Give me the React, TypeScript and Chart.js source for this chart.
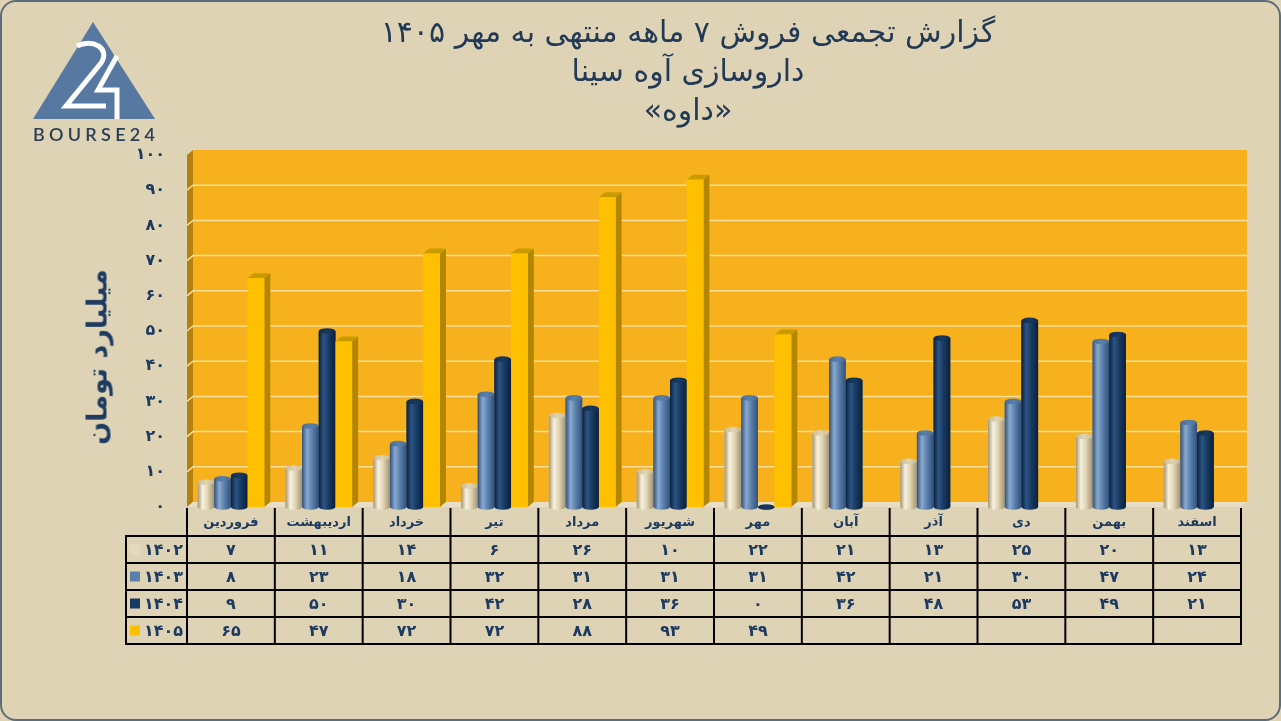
import React, { useEffect, useRef } from "react";
import { Chart, registerables } from "chart.js";

Chart.register(...registerables);

// ---------- data ----------
const months = [
  "فروردین", "اردیبهشت", "خرداد", "تیر", "مرداد", "شهریور",
  "مهر", "آبان", "آذر", "دی", "بهمن", "اسفند",
];
const years = ["1402", "1403", "1404", "1405"];
const sales1402 = [7, 11, 14, 6, 26, 10, 22, 21, 13, 25, 20, 13];
const sales1403 = [8, 23, 18, 32, 31, 31, 31, 42, 21, 30, 47, 24];
const sales1404 = [9, 50, 30, 42, 28, 36, 0, 36, 48, 53, 49, 21];
const sales1405 = [65, 47, 72, 72, 88, 93, 49, null, null, null, null, null];
const yMin = 0;
const yMax = 100;
const yStep = 10;
const titleLines = [
  "گزارش تجمعی فروش ۷ ماهه منتهی به مهر ۱۴۰۵",
  "داروسازی آوه سینا",
  "«داوه»",
];
const yTitle = "میلیارد تومان";

// ---------- styling ----------
const NAVY = "#1d3b61";
const FA_FONT = '"DejaVu Sans", sans-serif';
const DX = 6;
const DY = 5;
const seriesStyles: any[] = [
  { kind: "cyl", flat: "#e2d6b6", dark: "#a39371", light: "#f7f1df", mid: "#e0d4b3", cap: "#c9bb96" },
  { kind: "cyl", flat: "#5a7fab", dark: "#31507a", light: "#8aa9ce", mid: "#5b80ac", cap: "#496c96" },
  { kind: "cyl", flat: "#183a62", dark: "#0a203b", light: "#2c5484", mid: "#183a62", cap: "#102b4b" },
  { kind: "box", flat: "#ffc000", front: "#ffc000", side: "#b38600", top: "#c99b00" },
];
const legendSquare = ["#e4d9bd", "#5a7fab", "#183a62", "#ffc000"];

const faDigits = "۰۱۲۳۴۵۶۷۸۹";
const toFa = (v: any) => String(v).replace(/\d/g, (d) => faDigits[Number(d)]);

function drawCylinder(ctx: CanvasRenderingContext2D, x: number, top: number, base: number, w: number, s: any) {
  const rx = w / 2;
  const ry = Math.max(2.2, w * 0.17);
  const l = x - rx;
  const r = x + rx;
  const g = ctx.createLinearGradient(l, 0, r, 0);
  g.addColorStop(0, s.dark);
  g.addColorStop(0.3, s.light);
  g.addColorStop(0.6, s.mid);
  g.addColorStop(1, s.dark);
  ctx.fillStyle = g;
  ctx.beginPath();
  ctx.moveTo(l, top);
  ctx.lineTo(l, base);
  ctx.ellipse(x, base, rx, ry, 0, Math.PI, 0, true);
  ctx.lineTo(r, top);
  ctx.closePath();
  ctx.fill();
  const cg = ctx.createLinearGradient(l, 0, r, 0);
  cg.addColorStop(0, s.cap);
  cg.addColorStop(0.5, s.mid);
  cg.addColorStop(1, s.cap);
  ctx.fillStyle = cg;
  ctx.beginPath();
  ctx.ellipse(x, top, rx, ry, 0, 0, Math.PI * 2);
  ctx.fill();
}

function drawBox(ctx: CanvasRenderingContext2D, x: number, top: number, base: number, w: number, s: any) {
  const l = x - w / 2;
  const r = x + w / 2;
  ctx.fillStyle = s.side;
  ctx.beginPath();
  ctx.moveTo(r, top);
  ctx.lineTo(r + DX, top - DY);
  ctx.lineTo(r + DX, base - DY);
  ctx.lineTo(r, base);
  ctx.closePath();
  ctx.fill();
  ctx.fillStyle = s.top;
  ctx.beginPath();
  ctx.moveTo(l, top);
  ctx.lineTo(l + DX, top - DY);
  ctx.lineTo(r + DX, top - DY);
  ctx.lineTo(r, top);
  ctx.closePath();
  ctx.fill();
  ctx.fillStyle = s.front;
  ctx.fillRect(l, top, w, base - top);
}

const wallPlugin = {
  id: "wall3d",
  beforeDatasetsDraw(chart: any) {
    const { ctx, chartArea: a, scales } = chart;
    const y = scales.y;
    const y0 = y.getPixelForValue(yMin);
    const y1 = y.getPixelForValue(yMax);
    ctx.save();
    ctx.fillStyle = "#f6b11d";
    ctx.fillRect(a.left + DX, y1 - DY, a.right - a.left, y0 - y1);
    ctx.fillStyle = "#b3810f";
    ctx.beginPath();
    ctx.moveTo(a.left, y1);
    ctx.lineTo(a.left + DX, y1 - DY);
    ctx.lineTo(a.left + DX, y0 - DY);
    ctx.lineTo(a.left, y0);
    ctx.closePath();
    ctx.fill();
    ctx.fillStyle = "#e8dec6";
    ctx.beginPath();
    ctx.moveTo(a.left, y0);
    ctx.lineTo(a.left + DX, y0 - DY);
    ctx.lineTo(a.right + DX, y0 - DY);
    ctx.lineTo(a.right, y0);
    ctx.closePath();
    ctx.fill();
    ctx.strokeStyle = "rgba(252,226,160,0.95)";
    ctx.lineWidth = 1.5;
    for (let v = yMin + yStep; v < yMax; v += yStep) {
      const py = y.getPixelForValue(v);
      ctx.beginPath();
      ctx.moveTo(a.left, py);
      ctx.lineTo(a.left + DX, py - DY);
      ctx.lineTo(a.right + DX, py - DY);
      ctx.stroke();
    }
    ctx.restore();
  },
  afterDatasetsDraw(chart: any) {
    const { ctx } = chart;
    const n = chart.data.labels.length;
    ctx.save();
    for (let i = 0; i < n; i++) {
      for (let d = 0; d < chart.data.datasets.length; d++) {
        const v = chart.data.datasets[d].data[i];
        if (v === null || v === undefined) continue;
        const el = chart.getDatasetMeta(d).data[i];
        if (!el) continue;
        const p = el.getProps(["x", "y", "base", "width"], true);
        const s = seriesStyles[d];
        if (s.kind === "cyl") drawCylinder(ctx, p.x, p.y, p.base, p.width, s);
        else drawBox(ctx, p.x, p.y, p.base, p.width, s);
      }
    }
    ctx.restore();
  },
  afterDraw(chart: any) {
    const { ctx, chartArea: a, scales } = chart;
    const xs = scales.x;
    const n = months.length;
    const step = xs.getPixelForValue(1) - xs.getPixelForValue(0);
    const edges: number[] = [];
    for (let i = 0; i <= n; i++) edges.push(xs.getPixelForValue(0) - step / 2 + i * step);
    const tableLeft = 126;
    const top = a.bottom + 1;
    const headerH = 28;
    const rowH = 27;
    const seriesData = [sales1402, sales1403, sales1404, sales1405];
    const rowsTop = top + headerH;
    const bottom = rowsTop + rowH * seriesData.length;
    ctx.save();
    ctx.strokeStyle = "#000";
    ctx.lineWidth = 2;
    ctx.beginPath();
    for (const e of edges) {
      ctx.moveTo(e, top);
      ctx.lineTo(e, bottom);
    }
    ctx.moveTo(tableLeft, rowsTop);
    ctx.lineTo(tableLeft, bottom);
    for (let r = 0; r <= seriesData.length; r++) {
      ctx.moveTo(tableLeft - 1, rowsTop + r * rowH);
      ctx.lineTo(edges[n] + 1, rowsTop + r * rowH);
    }
    ctx.stroke();

    ctx.fillStyle = NAVY;
    ctx.textAlign = "center";
    ctx.textBaseline = "middle";
    ctx.font = `bold 13px ${FA_FONT}`;
    for (let i = 0; i < n; i++) {
      ctx.fillText(months[i], xs.getPixelForValue(i), top + headerH / 2 + 1);
    }
    ctx.font = `bold 16px ${FA_FONT}`;
    for (let r = 0; r < seriesData.length; r++) {
      const cy = rowsTop + r * rowH + rowH / 2 + 1;
      for (let i = 0; i < n; i++) {
        const v = seriesData[r][i];
        if (v === null || v === undefined) continue;
        ctx.fillText(toFa(v), xs.getPixelForValue(i), cy);
      }
      ctx.fillStyle = legendSquare[r];
      ctx.fillRect(tableLeft + 4, cy - 6, 10, 10);
      ctx.fillStyle = NAVY;
      ctx.textAlign = "right";
      ctx.fillText(toFa(years[r]), edges[0] - 4, cy);
      ctx.textAlign = "center";
    }
    ctx.restore();
  },
};

export default function App() {
  const canvasRef = useRef<HTMLCanvasElement | null>(null);

  useEffect(() => {
    const prevMargin = document.body.style.margin;
    document.body.style.margin = "0";
    const canvas = canvasRef.current;
    if (!canvas) return;
    const seriesData = [sales1402, sales1403, sales1404, sales1405];
    const chart = new Chart(canvas, {
      type: "bar",
      data: {
        labels: months,
        datasets: seriesData.map((d, i) => ({
          label: years[i],
          data: d,
          backgroundColor: seriesStyles[i].flat,
          borderWidth: 0,
          barPercentage: 1,
          categoryPercentage: 0.76,
        })),
      },
      options: {
        responsive: false,
        animation: false,
        devicePixelRatio: 1,
        layout: { padding: { top: 155, bottom: 214, right: 40, left: 0 } },
        plugins: { legend: { display: false }, tooltip: { enabled: false }, title: { display: false } },
        scales: {
          x: { display: false },
          y: {
            min: yMin,
            max: yMax,
            afterFit: (scale: any) => {
              scale.width = 187;
            },
            grid: { display: false, drawTicks: false },
            border: { display: false },
            ticks: {
              stepSize: yStep,
              padding: 22,
              color: NAVY,
              font: { family: "DejaVu Sans", weight: "bold", size: 16 },
              callback: (v: any) => toFa(v),
            },
          },
        },
      },
      plugins: [wallPlugin],
    } as any);
    return () => {
      chart.destroy();
      document.body.style.margin = prevMargin;
    };
  }, []);

  return (
    <div
      style={{
        position: "fixed",
        left: 0,
        top: 0,
        width: 1281,
        height: 721,
        background: "#dfd3b6",
        overflow: "hidden",
      }}
    >
      <canvas ref={canvasRef} width={1281} height={721} style={{ position: "absolute", left: 0, top: 0 }} />
      <div
        style={{
          position: "absolute",
          left: 338,
          top: 12,
          width: 700,
          textAlign: "center",
          direction: "rtl",
          fontFamily: FA_FONT,
          fontSize: 30,
          lineHeight: "39px",
          color: "#233a57",
        }}
      >
        {titleLines.map((t, i) => (
          <div key={i}>{t}</div>
        ))}
      </div>
      <div
        style={{
          position: "absolute",
          left: 97,
          top: 357,
          transform: "translate(-50%, -50%) rotate(-90deg)",
          whiteSpace: "nowrap",
          direction: "rtl",
          fontFamily: FA_FONT,
          fontWeight: "bold",
          fontSize: 27,
          color: NAVY,
        }}
      >
        {yTitle}
      </div>
      <svg width={200} height={150} style={{ position: "absolute", left: 0, top: 0 }}>
        <polygon points="93,22 33,119 155,119" fill="#5678a1" />
        <path d="M77,46 C92,38 111,48 101,63 L66,106 L106,106" stroke="#fff" strokeWidth={5} fill="none" />
        <path d="M117,56 L98,90 L117,90 L117,119" stroke="#fff" strokeWidth={5} fill="none" />
        <text
          x={33}
          y={141}
          textLength={122}
          lengthAdjust="spacing"
          fontFamily="Lato, sans-serif"
          fontSize={18}
          fontWeight={600}
          fill="#2a3e55"
        >
          BOURSE24
        </text>
      </svg>
      <div
        style={{
          position: "absolute",
          left: 0,
          top: 0,
          width: 1281,
          height: 721,
          boxSizing: "border-box",
          border: "2px solid #5d6c79",
          borderRadius: 16,
          pointerEvents: "none",
        }}
      />
    </div>
  );
}
